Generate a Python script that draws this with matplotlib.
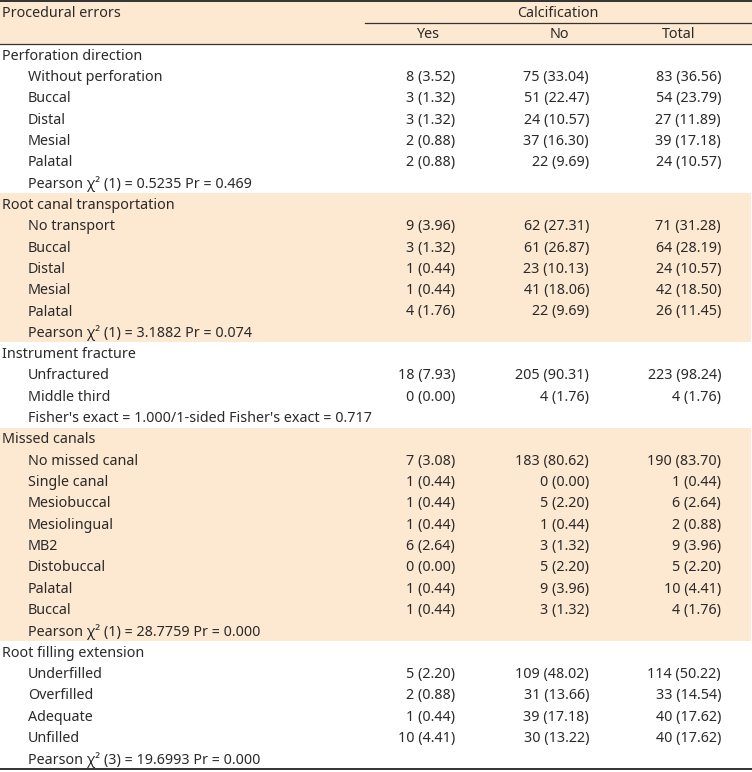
import matplotlib.pyplot as plt
from matplotlib.patches import Rectangle

plt.rcParams['font.family'] = ['Noto Sans', 'DejaVu Sans']

# table content
sections = ['Perforation direction', 'Root canal transportation', 'Instrument fracture',
            'Missed canals', 'Root filling extension']
items = [
    ['Without perforation', 'Buccal', 'Distal', 'Mesial', 'Palatal'],
    ['No transport', 'Buccal', 'Distal', 'Mesial', 'Palatal'],
    ['Unfractured', 'Middle third'],
    ['No missed canal', 'Single canal', 'Mesiobuccal', 'Mesiolingual', 'MB2',
     'Distobuccal', 'Palatal', 'Buccal'],
    ['Underfilled', 'Overfilled', 'Adequate', 'Unfilled'],
]
yes_vals = [
    ['8 (3.52)', '3 (1.32)', '3 (1.32)', '2 (0.88)', '2 (0.88)'],
    ['9 (3.96)', '3 (1.32)', '1 (0.44)', '1 (0.44)', '4 (1.76)'],
    ['18 (7.93)', '0 (0.00)'],
    ['7 (3.08)', '1 (0.44)', '1 (0.44)', '1 (0.44)', '6 (2.64)', '0 (0.00)', '1 (0.44)', '1 (0.44)'],
    ['5 (2.20)', '2 (0.88)', '1 (0.44)', '10 (4.41)'],
]
no_vals = [
    ['75 (33.04)', '51 (22.47)', '24 (10.57)', '37 (16.30)', '22 (9.69)'],
    ['62 (27.31)', '61 (26.87)', '23 (10.13)', '41 (18.06)', '22 (9.69)'],
    ['205 (90.31)', '4 (1.76)'],
    ['183 (80.62)', '0 (0.00)', '5 (2.20)', '1 (0.44)', '3 (1.32)', '5 (2.20)', '9 (3.96)', '3 (1.32)'],
    ['109 (48.02)', '31 (13.66)', '39 (17.18)', '30 (13.22)'],
]
total_vals = [
    ['83 (36.56)', '54 (23.79)', '27 (11.89)', '39 (17.18)', '24 (10.57)'],
    ['71 (31.28)', '64 (28.19)', '24 (10.57)', '42 (18.50)', '26 (11.45)'],
    ['223 (98.24)', '4 (1.76)'],
    ['190 (83.70)', '1 (0.44)', '6 (2.64)', '2 (0.88)', '9 (3.96)', '5 (2.20)', '10 (4.41)', '4 (1.76)'],
    ['114 (50.22)', '33 (14.54)', '40 (17.62)', '40 (17.62)'],
]
tests = [
    'Pearson χ² (1) = 0.5235 Pr = 0.469',
    'Pearson χ² (1) = 3.1882 Pr = 0.074',
    "Fisher's exact = 1.000/1-sided Fisher's exact = 0.717",
    'Pearson χ² (1) = 28.7759 Pr = 0.000',
    'Pearson χ² (3) = 19.6993 Pr = 0.000',
]
shaded_sections = [1, 3]

W, H = 752, 772
SHADE = '#fde8d1'
TXT = '#2a2a2a'
FS = 10.3
DY = 1.5  # nudge text down a little
header_bottom = 44
row_h = 21.32
col_right = [455, 589, 721]

fig = plt.figure(figsize=(W / 100, H / 100), dpi=100)
ax = fig.add_axes([0, 0, 1, 1])
ax.set_xlim(0, W)
ax.set_ylim(H, 0)
ax.axis('off')


def put(x, y, s, ha='left'):
    ax.text(x, y + DY, s, fontsize=FS, color=TXT, va='center', ha=ha)


# header
ax.add_patch(Rectangle((0, 1), W, header_bottom - 1, color=SHADE, lw=0))
ax.plot([0, W], [1.2, 1.2], color='#222222', lw=1.3)
ax.plot([365, W], [22.5, 22.5], color='#333333', lw=0.9)
ax.plot([0, W], [header_bottom, header_bottom], color='#333333', lw=0.9)
put(2, 12, 'Procedural errors')
put(558, 12, 'Calcification', ha='center')
for label, cx in zip(['Yes', 'No', 'Total'], [428, 559, 679]):
    put(cx, 33, label, ha='center')

row = 0
for s, title in enumerate(sections):
    n_rows = len(items[s]) + 2
    top = header_bottom + row * row_h
    if s in shaded_sections:
        ax.add_patch(Rectangle((0, top), W - 1, n_rows * row_h, color=SHADE, lw=0))
    put(2, top + row_h / 2, title)
    for k, name in enumerate(items[s]):
        y = top + (k + 1.5) * row_h
        put(28, y, name)
        for xr, vals in zip(col_right, [yes_vals, no_vals, total_vals]):
            put(xr, y, vals[s][k], ha='right')
    put(28, top + (n_rows - 0.5) * row_h, tests[s])
    row += n_rows

bottom = header_bottom + row * row_h
ax.plot([0, W], [bottom, bottom], color='#222222', lw=1.3)

fig.savefig('out.png', dpi=100)
